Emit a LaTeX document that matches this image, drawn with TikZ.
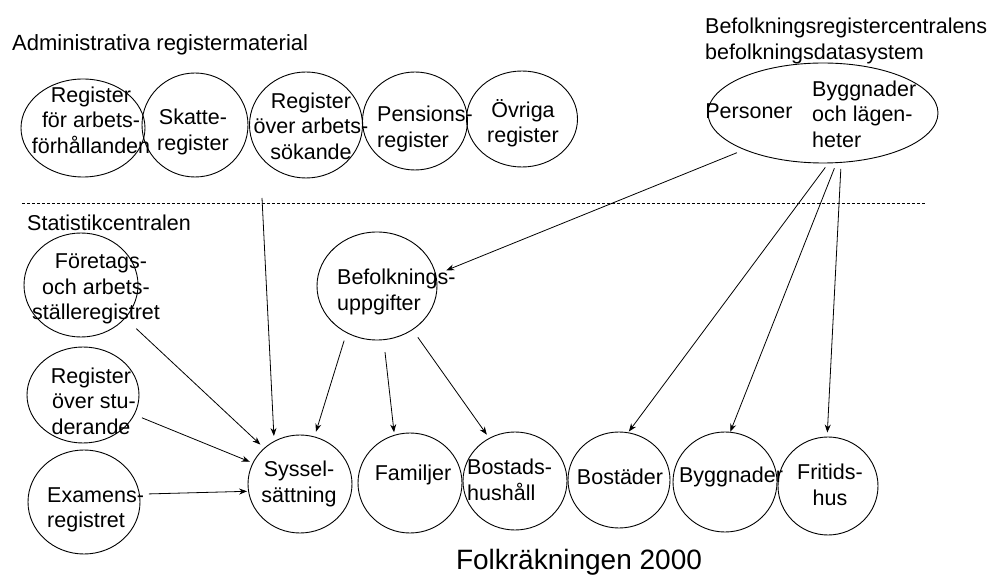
\documentclass[tikz,border=0pt]{standalone}
\usepackage{fontspec}
\setmainfont{Liberation Sans}
\usetikzlibrary{shapes.geometric,arrows.meta}
\tikzset{
  ell/.style={draw, ellipse, inner sep=0pt, line width=0.9pt},
  txt/.style={font=\fontsize{21.5}{25.5}\selectfont, align=center, inner sep=0pt},
  txtl/.style={font=\fontsize{21.5}{25.5}\selectfont, align=left, inner sep=0pt, anchor=west},
  head/.style={font=\fontsize{22}{26}\selectfont, align=left, inner sep=0pt, anchor=west},
  arr/.style={line width=0.8pt, -{Stealth[length=8pt,width=6pt]}},
  sep/.style={line width=1pt, dash pattern=on 3pt off 2pt}
}
\begin{document}
\begin{tikzpicture}[x=1pt,y=-1pt]
\useasboundingbox (0,0) rectangle (989,577);

% headings
\node[head] (hadm) at (12,45) {Administrativa registermaterial};
\node[head, font=\fontsize{21.5}{25.5}\selectfont] (hbrc) at (705,41) {Befolkningsregistercentralens\\befolkningsdatasystem};
\node[head, font=\fontsize{21.5}{25.5}\selectfont] (hstat) at (27,223) {Statistikcentralen};
\node[font=\fontsize{28}{32}\selectfont, inner sep=0pt] (hfolk) at (579,562) {Folkräkningen 2000};

% separator
\coordinate (sepL) at (22,204);
\coordinate (sepR) at (925,204);
\draw[sep] (sepL) -- (sepR);

% top row ellipses
\node[ell, minimum width=124pt, minimum height=98pt] (e1) at (83,128) {};
\node[ell, minimum width=106pt, minimum height=104pt] (e2) at (195,125) {};
\node[ell, minimum width=113pt, minimum height=106pt] (e3) at (306,125) {};
\node[ell, minimum width=105pt, minimum height=98pt] (e4) at (415,121) {};
\node[ell, minimum width=111pt, minimum height=96pt] (e5) at (522,119) {};

\node[txt] (t1) at (91,120) {Register\\för arbets-\\förhållanden};
\node[txt] (t2) at (193,132) {Skatte-\\register};
\node[txt] (t3) at (311,126) {Register\\över arbets-\\sökande};
\node[txtl] (t4) at (377,129) {Pensions-\\register};
\node[txt] (t5) at (523,123) {Övriga\\register};

% big ellipse
\node[ell, minimum width=230pt, minimum height=100pt] (big) at (823,113) {};
\node[txt] (tpers) at (749,111) {Personer};
\node[txtl] (tbyl) at (812,114) {Byggnader\\och lägen-\\heter};

% left column
\node[ell, minimum width=114pt, minimum height=104pt] (fore) at (81,285) {};
\node[txt] (tfore) at (96,289) {\hspace*{10pt}Företags-\\och arbets-\\ställeregistret};
\node[ell, minimum width=112pt, minimum height=96pt] (stu) at (83,395) {};
\node[txt] (tstu) at (91,401) {Register\\\hspace*{6pt}över stu-\\derande};
\node[ell, minimum width=112pt, minimum height=104pt] (exa) at (84,502) {};
\node[txtl] (texa) at (47,510) {Examens-\\registret};

% befolkningsuppgifter
\node[ell, minimum width=120pt, minimum height=108pt] (bef) at (377,286) {};
\node[txtl] (tbef) at (337,292) {Befolknings-\\uppgifter};

% bottom row
\node[ell, minimum width=104pt, minimum height=98pt] (syss) at (300,484) {};
\node[txt] (tsyss) at (299,484) {Syssel-\\sättning};
\node[ell, minimum width=104pt, minimum height=100pt] (fam) at (410,483) {};
\node[txt] (tfam) at (413,475) {Familjer};
\node[ell, minimum width=104pt, minimum height=98pt] (bhus) at (515,481) {};
\node[txtl] (tbhus) at (467,480) {Bostads-\\hushåll};
\node[ell, minimum width=102pt, minimum height=96pt] (bost) at (619,480) {};
\node[txt] (tbost) at (620,477) {Bostäder};
\node[ell, minimum width=104pt, minimum height=100pt] (bygg) at (725,482) {};
\node[txt] (tbygg) at (731,477) {Byggnader};
\node[ell, minimum width=100pt, minimum height=98pt] (frit) at (828,486) {};
\node[txt] (tfrit) at (830,485) {Fritids-\\hus};

% connectors
\coordinate (admtop) at (262,198);
\draw[arr, shorten >=5pt] (admtop) -- (syss.121.7);
\draw[arr, shorten <=15pt, shorten >=5pt] (fore.-37.5) -- (syss.135.7);
\draw[arr, shorten <=8pt, shorten >=3pt] (stu.-21.3) -- (syss.156.3);
\draw[arr, shorten <=9pt, shorten >=1pt] (exa.8.9) -- (syss.188.7);
\draw[arr, shorten <=8pt, shorten >=5pt] (bef.237.8) -- (syss.73.9);
\draw[arr, shorten <=12pt, shorten >=2.5pt] (bef.-83.1) -- (fam.108.8);
\draw[arr, shorten <=9pt, shorten >=4pt] (bef.-51.2) -- (bhus.121.3);
\draw[arr, shorten <=7.7pt, shorten >=11pt] (big.205.2) -- (bef.11.3);
\draw[arr, shorten <=5pt, shorten >=1pt] (big.-84.8) -- (bost.79.4);
\draw[arr, shorten <=5.5pt, shorten >=0pt] (big.-75.7) -- (bygg.84.2);
\draw[arr, shorten <=6pt, shorten >=4pt] (big.-70) -- (frit.91.1);
\end{tikzpicture}
\end{document}
